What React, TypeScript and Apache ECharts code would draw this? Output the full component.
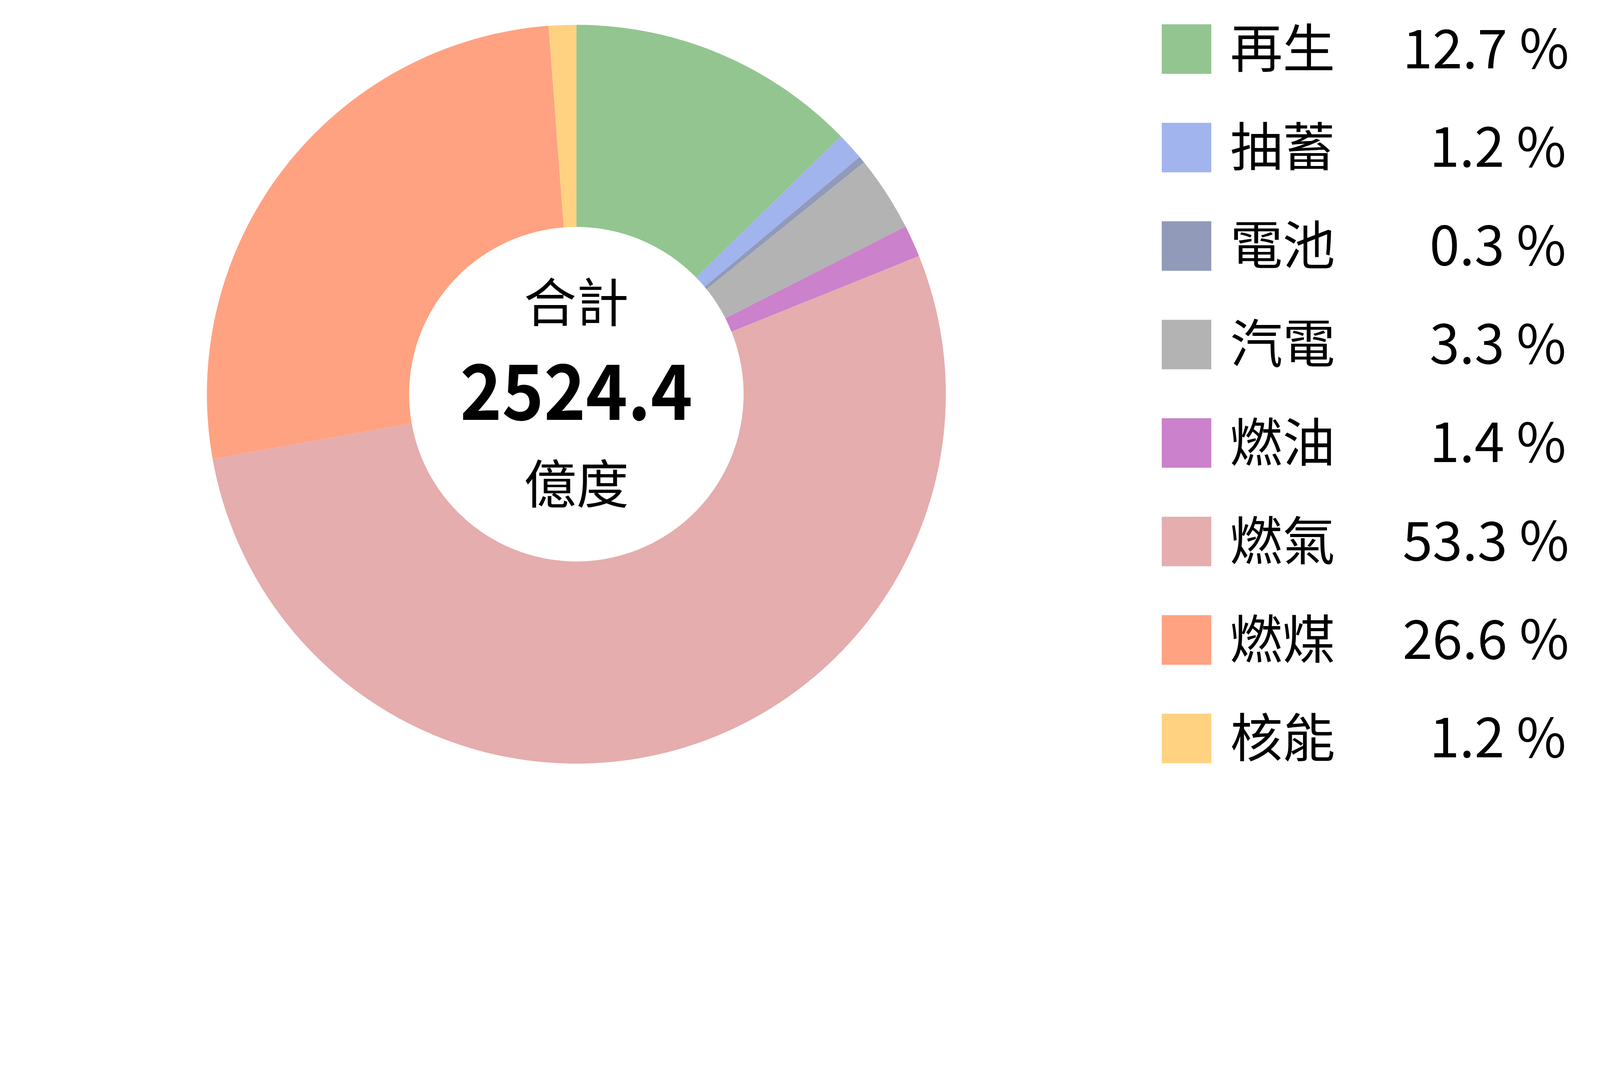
import React, { useEffect, useRef } from 'react';
import * as echarts from 'echarts';

// 發電結構（%）
const sources = ['再生', '抽蓄', '電池', '汽電', '燃油', '燃氣', '燃煤', '核能'];
const shares = [12.7, 1.2, 0.3, 3.3, 1.4, 53.3, 26.6, 1.2];
const colors = ['#92C58F', '#A1B4EE', '#919AB9', '#B3B3B3', '#CB81CB', '#E5ADAD', '#FFA282', '#FFD282'];
const totalLabel = '合計';
const totalValue = '2524.4';
const totalUnit = '億度';

const FONT = '"Noto Sans CJK TC", "Noto Sans CJK SC", sans-serif';

// layout measured on a 5491 x 2760 canvas, scaled to fit the viewport
const BASE_W = 5491;
const BASE_H = 2760;

const App: React.FC = () => {
  const chartRef = useRef<HTMLDivElement>(null);

  useEffect(() => {
    if (!chartRef.current) return;
    const chart = echarts.init(chartRef.current, undefined, { renderer: 'svg' });

    const s = Math.min(chartRef.current.clientWidth / BASE_W, chartRef.current.clientHeight / BASE_H);
    const p = (v: number) => v * s;

    const shareOf = (name: string) => {
      const v = shares[sources.indexOf(name)];
      const txt = v.toFixed(1) + ' %';
      // 個位數前補半形空白
      return v < 10 ? '\u2002' + txt : txt;
    };

    const centerText = (text: string, y: number, size: number, bold = false, sx = 1) => ({
      type: 'text',
      x: p(1978),
      y: p(y),
      scaleX: sx,
      style: {
        text,
        fill: '#000000',
        font: `${bold ? 'bold ' : ''}${p(size)}px ${FONT}`,
        textAlign: 'center',
        textVerticalAlign: 'middle'
      }
    });

    chart.setOption({
      animation: false,
      backgroundColor: '#ffffff',
      color: colors,
      legend: {
        orient: 'vertical',
        left: p(3987),
        top: p(61),
        padding: 0,
        icon: 'rect',
        itemWidth: p(170),
        itemHeight: p(170),
        itemGap: p(123),
        selectedMode: false,
        data: sources,
        formatter: (name: string) => `{n|${name}}{v|${shareOf(name)}}`,
        textStyle: {
          color: '#000000',
          fontFamily: FONT,
          fontSize: p(185),
          lineHeight: p(185),
          padding: [0, 0, p(30), p(58)],
          rich: {
            n: { width: p(592), fontSize: p(180), lineHeight: p(185), fontFamily: FONT, color: '#000000' },
            v: { fontSize: p(185), lineHeight: p(185), fontFamily: FONT, color: '#000000' }
          }
        }
      },
      graphic: [
        centerText(totalLabel, 1026, 180),
        centerText(totalValue, 1327, 262, true, 0.93),
        centerText(totalUnit, 1650, 180)
      ],
      series: [
        {
          type: 'pie',
          center: [p(1978), p(1353)],
          radius: [p(574), p(1268)],
          startAngle: 90,
          clockwise: true,
          avoidLabelOverlap: false,
          label: { show: false },
          labelLine: { show: false },
          emphasis: { disabled: true },
          itemStyle: { borderWidth: 0 },
          data: sources.map((name, i) => ({ name, value: shares[i] }))
        }
      ]
    });

    return () => {
      chart.dispose();
    };
  }, []);

  return (
    <div
      ref={chartRef}
      style={{ position: 'fixed', left: 0, top: 0, width: '100vw', height: '100vh' }}
    />
  );
};

export default App;
